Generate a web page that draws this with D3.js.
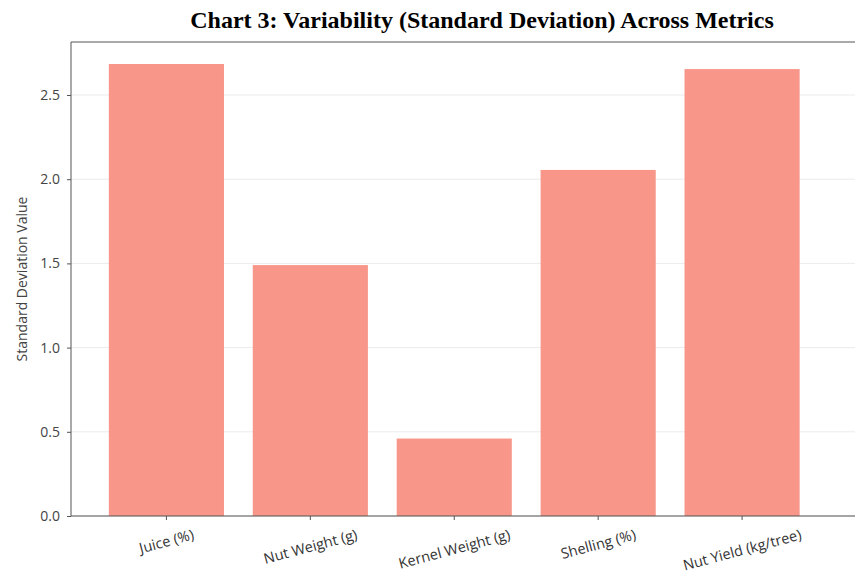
<!DOCTYPE html>
<html><head><meta charset="utf-8">
<script src="https://cdn.jsdelivr.net/npm/d3@7/dist/d3.min.js"></script>
<style>body{margin:0;background:#fff;} svg{display:block;}</style>
</head><body>
<svg id="chart" width="855" height="579"></svg>
<script>
const categories = ["Juice (%)", "Nut Weight (g)", "Kernel Weight (g)", "Shelling (%)", "Nut Yield (kg/tree)"];
const stdValues = [2.684, 1.49, 0.46, 2.055, 2.654];
const yTicks = [0.0, 0.5, 1.0, 1.5, 2.0, 2.5];
const titleText = "Chart 3: Variability (Standard Deviation) Across Metrics";
const yLabel = "Standard Deviation Value";

(function () {
const svg = d3.select("#chart");
const mLeft = 71, mTop = 42, mBottom = 516, rightRange = 837.5;
const sans = "'Open Sans', Lato, sans-serif";

const x = d3.scaleBand().domain(categories).range([mLeft, rightRange]).paddingInner(0.2).paddingOuter(0.263);
const y = d3.scaleLinear().domain([0, 2.5]).range([mBottom, 95]);

// grid
svg.append("g").selectAll("line").data(yTicks).join("line")
  .attr("x1", mLeft).attr("x2", 855)
  .attr("y1", d => y(d)).attr("y2", d => y(d))
  .attr("stroke", "#e6e6e6").attr("stroke-width", 0.8);

// bars
svg.append("g").selectAll("rect").data(stdValues).join("rect")
  .attr("x", (d, i) => x(categories[i]))
  .attr("width", x.bandwidth())
  .attr("y", d => y(d))
  .attr("height", d => mBottom - y(d))
  .attr("fill", "#f9968a");

// frame top
svg.append("line").attr("x1", mLeft).attr("x2", 860).attr("y1", mTop).attr("y2", mTop).attr("stroke", "#555").attr("stroke-width", 1);

// y axis
const yAxis = svg.append("g").attr("transform", `translate(${mLeft},0)`)
  .call(d3.axisLeft(y).tickValues(yTicks).tickFormat(d3.format(".1f")).tickSize(4).tickPadding(7));
yAxis.select(".domain").remove();
svg.append("line").attr("x1", mLeft).attr("x2", mLeft).attr("y1", mTop).attr("y2", mBottom).attr("stroke", "#555");
yAxis.selectAll(".tick line").attr("stroke", "#555");
yAxis.selectAll(".tick text").attr("fill", "#444").style("font-family", sans).style("font-size", "14px");

// x axis
const xAxis = svg.append("g").attr("transform", `translate(0,${mBottom})`)
  .call(d3.axisBottom(x).tickSize(4).tickPadding(0));
xAxis.select(".domain").remove();
svg.append("line").attr("x1", mLeft).attr("x2", 860).attr("y1", mBottom).attr("y2", mBottom).attr("stroke", "#555");
xAxis.selectAll(".tick line").attr("stroke", "#555");
const ang = 15 * Math.PI / 180;
xAxis.selectAll(".tick text")
  .attr("fill", "#333")
  .attr("text-anchor", "middle")
  .attr("dy", null)
  .attr("y", null)
  .attr("dominant-baseline", "central")
  .style("font-family", sans).style("font-size", "14.5px")
  .each(function () {
    const w = this.getComputedTextLength();
    const h = 14;
    const boxH = w * Math.sin(ang) + h * Math.cos(ang);
    d3.select(this).attr("transform", `translate(0,${11 + boxH / 2}) rotate(-15)`);
  });

// y label
svg.append("text")
  .attr("transform", "translate(21,279) rotate(-90)")
  .attr("text-anchor", "middle")
  .attr("dominant-baseline", "central")
  .attr("fill", "#444")
  .style("font-family", sans).style("font-size", "14px")
  .text(yLabel);

// title
svg.append("text")
  .attr("x", 482).attr("y", 28)
  .attr("text-anchor", "middle")
  .attr("fill", "#000")
  .style("font-family", "'Liberation Serif', 'Times New Roman', serif")
  .style("font-weight", "bold").style("font-size", "24px")
  .text(titleText);
})();
</script>
</body></html>
